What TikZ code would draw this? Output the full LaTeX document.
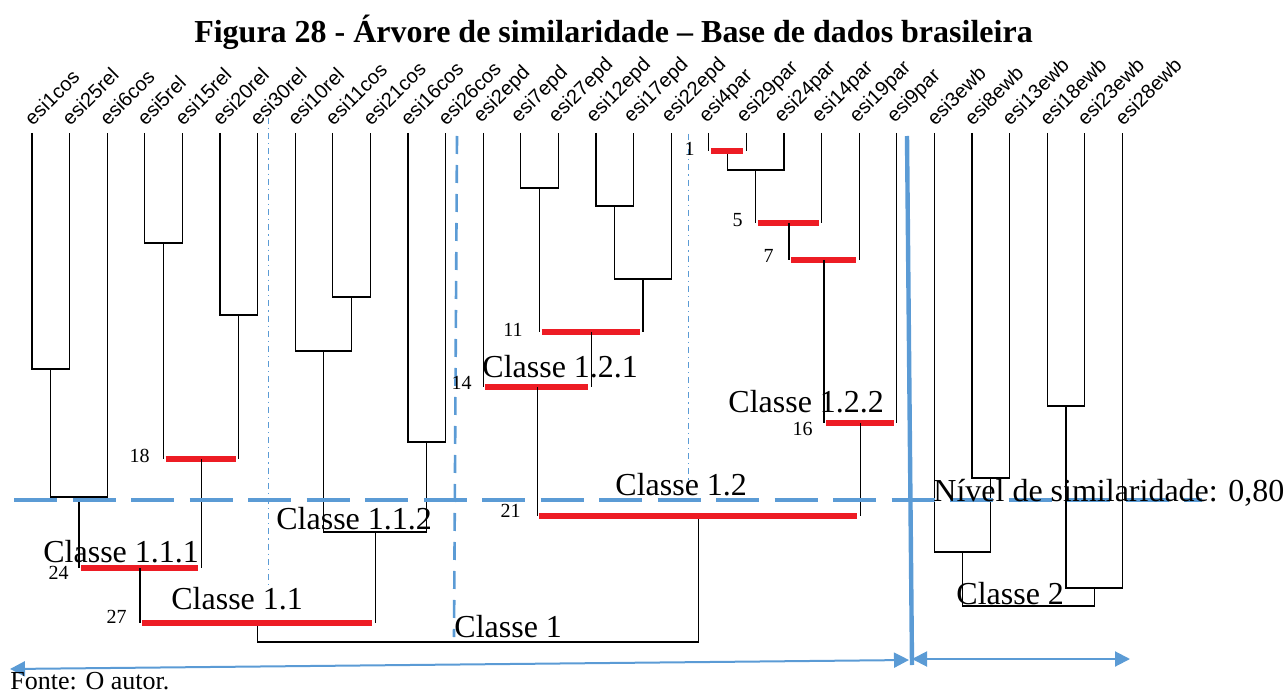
\documentclass[tikz,border=0pt]{standalone}
\usepackage{fontspec}
\setmainfont{Liberation Serif}
\newfontfamily\foglie{Liberation Sans}
\usetikzlibrary{arrows.meta}
\definecolor{azzurro}{RGB}{91,155,213}
\definecolor{rosso}{RGB}{237,28,36}

\begin{document}
\begin{tikzpicture}[x=0.5pt, y=-0.5pt,
    ramo/.style={line width=0.6pt, black},
    barra/.style={line width=3pt, rosso, shorten <=1pt, shorten >=1.5pt},
    foglia/.style={font=\foglie\fontsize{10}{11}\selectfont, rotate=45, anchor=south west, inner sep=0pt},
    classe/.style={font=\fontsize{16}{18}\selectfont, anchor=base west, inner sep=0pt},
    passo/.style={font=\fontsize{10}{12}\selectfont, anchor=base east, inner sep=0pt},
    livello/.style={azzurro, line width=2pt, dash pattern=on 21.5pt off 7.75pt},
    gruppo/.style={azzurro, line width=1.3pt, dash pattern=on 9pt off 5.5pt},
    sottogruppo/.style={azzurro, line width=0.5pt, dash pattern=on 3pt off 2pt on 0.6pt off 2pt},
    confine/.style={azzurro, line width=2.2pt},
    freccia/.style={azzurro, line width=1pt, {Triangle[length=7.5pt,width=7.5pt]}-{Triangle[length=7.5pt,width=7.5pt]}}]
    \useasboundingbox (0,0) rectangle (1284,695);

    % Titolo
    \node[font=\bfseries\fontsize{16}{18}\selectfont, anchor=base] (titolo) at (613.5,43) {Figura 28 - Árvore de similaridade – Base de dados brasileira};

    % --- Foglie ---
    \foreach \nome [count=\i] in {esi1cos,esi25rel,esi6cos,esi5rel,esi15rel,esi20rel,esi30rel,esi10rel,esi11cos,esi21cos,esi16cos,esi26cos,esi2epd,esi7epd,esi27epd,esi12epd,esi17epd,esi22epd,esi4par,esi29par,esi24par,esi14par,esi19par,esi9par,esi3ewb,esi8ewb,esi13ewb,esi18ewb,esi23ewb,esi28ewb}{
        \coordinate (l\i) at ({32+37.6*(\i-1)},133);
        \node[foglia] (lab\i) at ([shift={(1,-6)}]l\i) {\nome};
    }

    % --- Vertici di fusione ---
    % Classe 1.1
    \coordinate (a) at (50.8,369);
    \coordinate (b) at (79,497);
    \coordinate (c) at (163.6,243);
    \coordinate (d) at (238.8,315);
    \coordinate (e) at (201.2,459);   % 18
    \coordinate (f) at (140,568);     % 24
    \coordinate (g) at (351.6,297);
    \coordinate (h) at (323.4,351);
    \coordinate (i) at (426.8,442);
    \coordinate (j) at (375.1,532);
    \coordinate (k) at (257.5,623);   % 27
    % Classe 1.2
    \coordinate (m) at (539.6,188);
    \coordinate (n) at (614.8,206);
    \coordinate (o) at (643,279);
    \coordinate (p) at (591.3,332);   % 11
    \coordinate (q) at (537.3,387);   % 14
    \coordinate (r) at (727.6,151);   % 1
    \coordinate (s) at (755.8,170);
    \coordinate (t) at (789,223);     % 5
    \coordinate (u) at (824,260);     % 7
    \coordinate (v) at (860.4,423);   % 16
    \coordinate (w) at (698.8,516);   % 21
    \coordinate (c1) at (478,642);
    % Classe 2
    \coordinate (x1) at (990.8,478);
    \coordinate (x2) at (962.6,552);
    \coordinate (x3) at (1066,406);
    \coordinate (x4) at (1094.2,588);
    \coordinate (c2) at (1028.4,606);

    % --- Rami neri ---
    \draw[ramo] (l1) |- (a) -| (l2);
    \draw[ramo] (a) |- (b) -| (l3);
    \draw[ramo] (l4) |- (c) -| (l5);
    \draw[ramo] (l6) |- (d) -| (l7);
    \draw[ramo] (l9) |- (g) -| (l10);
    \draw[ramo] (l8) |- (h) -| (g);
    \draw[ramo] (l11) |- (i) -| (l12);
    \draw[ramo] (h) |- (j) -| (i);
    \draw[ramo] (k) |- (c1) -| (w);
    \draw[ramo] (l14) |- (m) -| (l15);
    \draw[ramo] (l16) |- (n) -| (l17);
    \draw[ramo] (n) |- (o) -| (l18);
    \draw[ramo] (r) |- (s) -| (l21);
    \draw[ramo] (l26) |- (x1) -| (l27);
    \draw[ramo] (l25) |- (x2) -| (x1);
    \draw[ramo] (l28) |- (x3) -| (l29);
    \draw[ramo] (x3) |- (x4) -| (l30);
    \draw[ramo] (x2) |- (c2) -| (x4);

    % --- Rami rossi ---
    \foreach \p/\sx/\dx in {e/c/d, f/b/e, k/f/j, p/m/o, q/l13/p, r/l19/l20, t/s/l22, u/t/l23, v/u/l24, w/q/v}{
        \draw[ramo] (\sx) -- (\sx |- \p) (\dx) -- (\dx |- \p);
        \draw[barra] (\sx |- \p) -- (\dx |- \p);
    }

    % --- Linee azzurre ---
    \coordinate (h0) at (14,500);
    \coordinate (h1) at (1202,500);
    \coordinate (g0) at (457,136);
    \coordinate (g1) at (454,637);
    \coordinate (s0) at (268,118);
    \coordinate (s1) at (268,588);
    \coordinate (s2) at (688,134);
    \coordinate (s3) at (688,480);
    \coordinate (b0) at (907,136);
    \coordinate (b1) at (912,665);
    \coordinate (f0) at (10,669);
    \coordinate (f1) at (909,660);
    \coordinate (f2) at (912,659);
    \coordinate (f3) at (1130,659);
    \draw[sottogruppo] (s0) -- (s1);
    \draw[sottogruppo] (s2) -- (s3);
    \draw[gruppo] (g0) -- (g1);
    \draw[confine] (b0) -- (b1);
    \draw[livello] (h0) -- (h1);
    \draw[freccia] (f0) -- (f1);
    \draw[freccia] (f2) -- (f3);

    % --- Passi ---
    \node[passo] (p1) at (695,156) {1};
    \node[passo] (p5) at (743,227) {5};
    \node[passo] (p7) at (774,263) {7};
    \node[passo] (p11) at (523,336) {11};
    \node[passo] (p14) at (472,389) {14};
    \node[passo] (p16) at (813,435) {16};
    \node[passo] (p18) at (150,462) {18};
    \node[passo] (p21) at (521,517) {21};
    \node[passo] (p24) at (69,579) {24};
    \node[passo] (p27) at (127,623) {27};

    % --- Classi ---
    \node[classe] (k121) at (482,377) {Classe 1.2.1};
    \node[classe] (k122) at (728,412) {Classe 1.2.2};
    \node[classe] (k12) at (615,495) {Classe 1.2};
    \node[classe] (liv) at (933,501) {Nível de similaridade: 0,80};
    \node[classe] (k2) at (956,604) {Classe 2};
    \node[classe] (k112) at (276,529) {Classe 1.1.2};
    \node[classe] (k111) at (43,562) {Classe 1.1.1};
    \node[classe] (k11) at (171,609) {Classe 1.1};
    \node[classe] (k1) at (454,637) {Classe 1};

    \node[font=\fontsize{13}{15}\selectfont, anchor=base west, inner sep=0pt] (fonte) at (10,689) {Fonte: O autor.};
\end{tikzpicture}
\end{document}
